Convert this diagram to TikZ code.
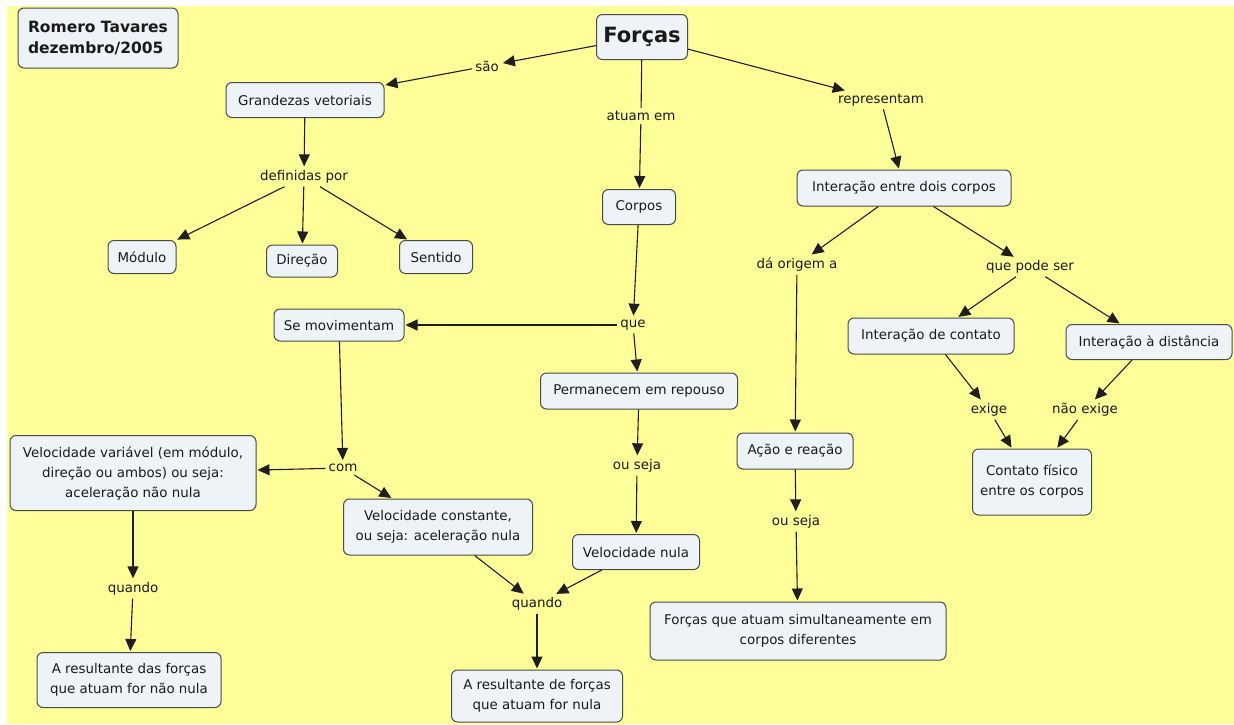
\documentclass[tikz,border=0pt]{standalone}
\usepackage{fontspec}
\setmainfont{DejaVu Sans}
\usetikzlibrary{arrows.meta}
\definecolor{bgyellow}{HTML}{FFFF99}
\definecolor{boxfill}{HTML}{EEF3F7}
\definecolor{boxline}{HTML}{4A4A4A}
\definecolor{txt}{HTML}{1A1A1A}
\definecolor{lnk}{HTML}{1E1E1E}
\begin{document}
\begin{tikzpicture}[x=1pt,y=-1pt,
  concept/.style={draw=boxline, fill=boxfill, rounded corners=6pt, line width=1pt,
    align=center, inner sep=0pt, text=txt, font=\fontsize{13.4}{20}\selectfont},
  sz/.style 2 args={minimum width=#1pt, minimum height=#2pt},
  phrase/.style={inner sep=3pt, text=txt, font=\fontsize{13.4}{16}\selectfont},
  arr/.style={draw=lnk, line width=1.1pt, -{Triangle[length=12pt,width=11pt]}, shorten >=1pt},
  ln/.style={draw=lnk, line width=1.1pt}]
\fill[white] (0,0) rectangle (1234,724);
\fill[bgyellow] (7,6) rectangle (1234,724);
\useasboundingbox (0,0) rectangle (1234,724);

% concepts
\node[concept, sz={160}{60}, align=left, font=\fontsize{15.5}{21}\selectfont\bfseries] (romero) at (98,38) {Romero Tavares\\dezembro/2005};
\node[concept, sz={91}{45}, font=\fontsize{21}{24}\selectfont\bfseries] (forcas) at (642,37) {Forças};
\node[concept, sz={158}{35}] (grand) at (305,100) {Grandezas vetoriais};
\node[concept, sz={73}{35}] (corpos) at (639,207) {Corpos};
\node[concept, sz={214}{36}] (inter) at (904,188) {Interação entre dois corpos};
\node[concept, sz={68}{33}] (modulo) at (142,257) {Módulo};
\node[concept, sz={71}{32}] (direcao) at (302,261) {Direção};
\node[concept, sz={73}{33}] (sentido) at (436,257) {Sentido};
\node[concept, sz={130}{32}] (semov) at (339,325) {Se movimentam};
\node[concept, sz={166}{36}] (icont) at (931,336) {Interação de contato};
\node[concept, sz={166}{35}] (idist) at (1149,342) {Interação à distância};
\node[concept, sz={197}{36}] (perm) at (639,391) {Permanecem em repouso};
\node[concept, sz={246}{75}] (velvar) at (133,473) {Velocidade variável (em módulo,\\direção ou ambos) ou seja:\\aceleração não nula};
\node[concept, sz={116}{36}] (acao) at (795,451) {Ação e reação};
\node[concept, sz={119}{66}] (cfis) at (1032,482) {Contato físico\\entre os corpos};
\node[concept, sz={189}{56}] (velconst) at (438,527) {Velocidade constante,\\ou seja: aceleração nula};
\node[concept, sz={127}{35}] (velnula) at (636,552) {Velocidade nula};
\node[concept, sz={296}{58}] (fsim) at (798,631) {Forças que atuam simultaneamente em\\corpos diferentes};
\node[concept, sz={184}{55}] (resnn) at (129,680) {A resultante das forças\\que atuam for não nula};
\node[concept, sz={171}{52}] (resn) at (537,696) {A resultante de forças\\que atuam for nula};

% linking phrases
\node[phrase] (sao) at (487,66) {são};
\node[phrase] (atuam) at (641,116) {atuam em};
\node[phrase] (repr) at (881,100) {representam};
\node[phrase] (defin) at (304,177) {definidas por};
\node[phrase] (daor) at (797,265) {dá origem a};
\node[phrase] (qps) at (1030,267) {que pode ser};
\node[phrase] (que) at (633,325) {que};
\node[phrase] (exige) at (989,410) {exige};
\node[phrase] (nexige) at (1085,410) {não exige};
\node[phrase] (com) at (343,468) {com};
\node[phrase] (ouseja1) at (637,466) {ou seja};
\node[phrase] (ouseja2) at (796,522) {ou seja};
\node[phrase] (quando1) at (133,589) {quando};
\node[phrase] (quando2) at (537,604) {quando};

% connectors
\draw[arr] (forcas) -- (sao);
\draw[arr] (sao) -- (grand);
\draw[ln] (forcas) -- (atuam);
\draw[arr] (atuam) -- (corpos);
\draw[arr] (forcas) -- (repr);
\draw[arr] (repr) -- (inter);
\draw[arr] (grand) -- (defin);
\draw[arr] (defin) -- (modulo);
\draw[arr] (defin) -- (direcao);
\draw[arr] (defin) -- (sentido);
\draw[arr] (corpos) -- (que);
\draw[arr] (que) -- (semov);
\draw[arr] (que) -- (perm);
\draw[arr] (semov) -- (com);
\draw[arr] (com) -- (velvar);
\draw[arr] (com) -- (velconst);
\draw[arr] (perm) -- (ouseja1);
\draw[arr] (ouseja1) -- (velnula);
\draw[arr] (velconst) -- (quando2);
\draw[arr] (velnula) -- (quando2);
\draw[arr] (quando2) -- (resn);
\draw[arr] (velvar) -- (quando1);
\draw[arr] (quando1) -- (resnn);
\draw[arr] (inter) -- (daor);
\draw[arr] (inter) -- (qps);
\draw[arr] (daor) -- (acao);
\draw[arr] (acao) -- (ouseja2);
\draw[arr] (ouseja2) -- (fsim);
\draw[arr] (qps) -- (icont);
\draw[arr] (qps) -- (idist);
\draw[arr] (icont) -- (exige);
\draw[arr] (idist) -- (nexige);
\draw[arr] (exige) -- (cfis);
\draw[arr] (nexige) -- (cfis);
\end{tikzpicture}
\end{document}
